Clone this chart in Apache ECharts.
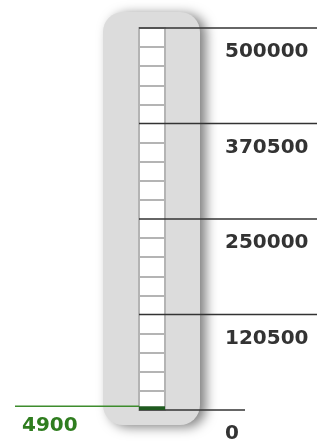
<!DOCTYPE html>
<html>
<head>
<meta charset="utf-8">
<script src="https://cdn.jsdelivr.net/npm/echarts@6/dist/echarts.min.js"></script>
<style>
html, body { margin: 0; padding: 0; background: #fff; }
#chart { width: 320px; height: 444px; }
</style>
</head>
<body>
<div id="chart"></div>
<script>
// data
var gaugeValue = [4900];
var axisMax = 500000;
var tickValues = [0, 125000, 250000, 375000, 500000];
var tickLabels = ['0', '120500', '250000', '370500', '500000'];

var labelFont = 'DejaVu Sans';

var chart = echarts.init(document.getElementById('chart'));
var option = {
	animation : false,
	// the grey rounded tube behind the scale
	graphic : [ {
		type : 'rect',
		z : -10,
		shape : { x : 103, y : 12, width : 97, height : 413, r : 20 },
		style : {
			fill : '#dcdcdc',
			shadowBlur : 12,
			shadowOffsetX : 6,
			shadowOffsetY : 2,
			shadowColor : 'rgba(0,0,0,0.5)'
		}
	} ],
	grid : {
		left : 139,
		width : 26,
		top : 28,
		bottom : 32,
		show : true,
		backgroundColor : '#fff',
		borderColor : '#b4b4b4',
		borderWidth : 2
	},
	xAxis : {
		type : 'value',
		min : 0,
		max : 1,
		show : false
	},
	yAxis : {
		type : 'value',
		min : 0,
		max : axisMax,
		interval : 125000,
		position : 'right',
		axisLine : { show : false },
		axisTick : { show : false },
		splitLine : { show : false },
		minorTick : { show : false, splitNumber : 5 },
		minorSplitLine : {
			show : true,
			lineStyle : { color : '#b4b4b4', width : 2 }
		},
		axisLabel : {
			margin : 60,
			color : '#333',
			fontFamily : labelFont,
			fontSize : 20,
			fontWeight : 'bold',
			verticalAlign : 'top',
			padding : [ 14, 0, 0, 0 ],
			formatter : function(v) {
				var i = tickValues.indexOf(v);
				return i < 0 ? '' : tickLabels[i];
			}
		}
	},
	series : [ {
		// major scale lines
		type : 'custom',
		data : tickValues.map(function(v) { return [ v ]; }),
		encode : { y : 0 },
		renderItem : function(params, api) {
			var v = api.value(0);
			var p = api.coord([ 0, v ]);
			var len = v === 0 ? 106 : 178;
			return {
				type : 'line',
				shape : { x1 : p[0], y1 : p[1], x2 : p[0] + len, y2 : p[1] },
				style : { stroke : '#333', lineWidth : 1.5 }
			};
		}
	}, {
		// current value: fill + pointer line + label
		type : 'custom',
		data : gaugeValue.map(function(v) { return [ v ]; }),
		encode : { y : 0 },
		z : 5,
		renderItem : function(params, api) {
			var v = api.value(0);
			var top = api.coord([ 0, v ]);
			var base = api.coord([ 0, 0 ]);
			var right = api.coord([ 1, 0 ]);
			return {
				type : 'group',
				children : [ {
					type : 'rect',
					shape : { x : base[0], y : top[1], width : right[0] - base[0], height : base[1] - top[1] },
					style : { fill : '#1f5a1f' }
				}, {
					type : 'line',
					shape : { x1 : 15, y1 : top[1], x2 : base[0], y2 : top[1] },
					style : { stroke : '#3d8c2d', lineWidth : 1.5 }
				}, {
					type : 'text',
					x : 22,
					y : top[1] + 20,
					style : {
						text : String(v),
						fill : '#2f7d1f',
						font : 'bold 20px "' + labelFont + '"',
						verticalAlign : 'middle'
					}
				} ]
			};
		}
	} ]
};
chart.setOption(option);
</script>
</body>
</html>
